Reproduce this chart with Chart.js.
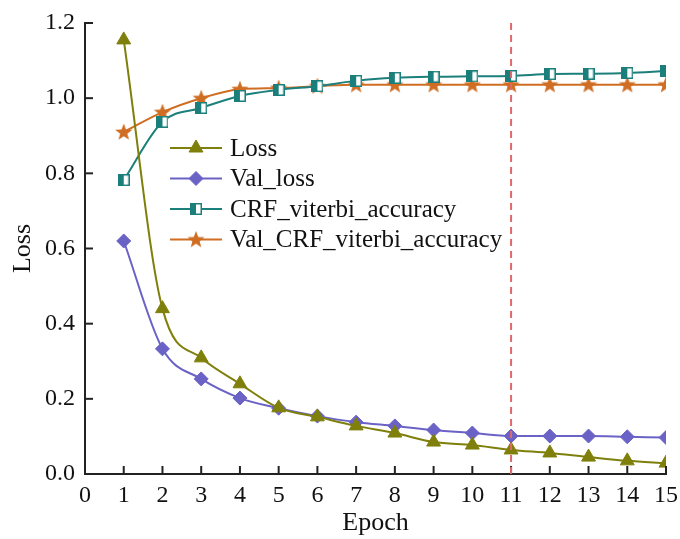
<!DOCTYPE html>
<html>
<head>
<meta charset="utf-8">
<script src="https://cdn.jsdelivr.net/npm/chart.js@4/dist/chart.umd.min.js"></script>
<style>
  html, body { margin: 0; padding: 0; background: #fff; }
  #wrap { width: 680px; height: 539px; }
</style>
</head>
<body>
<div id="wrap"><canvas id="chart" width="680" height="539"></canvas></div>
<script>
const epochs = [1, 2, 3, 4, 5, 6, 7, 8, 9, 10, 11, 12, 13, 14, 15];
const loss = [1.155, 0.44, 0.309, 0.24, 0.176, 0.152, 0.128, 0.109, 0.085, 0.077, 0.064, 0.056, 0.045, 0.035, 0.029];
const valLoss = [0.62, 0.333, 0.253, 0.202, 0.175, 0.154, 0.138, 0.128, 0.117, 0.109, 0.101, 0.101, 0.101, 0.099, 0.097];
const crfAcc = [0.782, 0.937, 0.974, 1.006, 1.022, 1.032, 1.046, 1.054, 1.057, 1.058, 1.059, 1.064, 1.065, 1.067, 1.072];
const valCrfAcc = [0.91, 0.963, 1.0, 1.024, 1.027, 1.032, 1.036, 1.036, 1.036, 1.036, 1.036, 1.036, 1.036, 1.036, 1.036];
const xTicks = [0, 1, 2, 3, 4, 5, 6, 7, 8, 9, 10, 11, 12, 13, 14, 15];
const yTicks = [0, 0.2, 0.4, 0.6, 0.8, 1.0, 1.2];
const markEpoch = 11;

const OLIVE = '#7f7f0c';
const PURPLE = '#6b62c6';
const TEAL = '#1b7f7b';
const ORANGE = '#cf6d22';
const FONT = '"Liberation Serif", "Times New Roman", serif';

function halfSquare(size, color) {
  const c = document.createElement('canvas');
  c.width = size; c.height = size;
  const g = c.getContext('2d');
  g.fillStyle = '#fff';
  g.fillRect(0, 0, size, size);
  g.fillStyle = color;
  g.fillRect(0, 0, size / 2, size);
  g.strokeStyle = color;
  g.lineWidth = 1.5;
  g.strokeRect(0.75, 0.75, size - 1.5, size - 1.5);
  return c;
}

function filledStar(size, color) {
  const c = document.createElement('canvas');
  c.width = size; c.height = size;
  const g = c.getContext('2d');
  const cx = size / 2, cy = size / 2 + 0.5, ro = size / 2, ri = ro * 0.42;
  g.beginPath();
  for (let i = 0; i < 10; i++) {
    const r = i % 2 ? ri : ro;
    const a = -Math.PI / 2 + i * Math.PI / 5;
    g.lineTo(cx + r * Math.cos(a), cy + r * Math.sin(a));
  }
  g.closePath();
  g.fillStyle = color;
  g.fill();
  return c;
}

const sqImg = halfSquare(12, TEAL);
const starImg = filledStar(18, ORANGE);

function series(label, values, color, style, radius) {
  return {
    label: label,
    data: epochs.map((e, i) => ({ x: e, y: values[i] })),
    borderColor: color,
    backgroundColor: color,
    borderWidth: 2,
    pointStyle: style,
    pointRadius: radius,
    pointBorderWidth: 1,
    cubicInterpolationMode: 'monotone',
    fill: false
  };
}

// inward tick marks, red dashed marker line and an in-plot legend
const extras = {
  id: 'extras',
  afterDraw(chart) {
    const ctx = chart.ctx;
    const xs = chart.scales.x, ys = chart.scales.y;
    const area = chart.chartArea;
    ctx.save();
    ctx.strokeStyle = '#222';
    ctx.lineWidth = 2;
    xTicks.forEach(v => {
      const px = xs.getPixelForValue(v);
      ctx.beginPath();
      ctx.moveTo(px, area.bottom);
      ctx.lineTo(px, area.bottom - 8);
      ctx.stroke();
    });
    yTicks.forEach(v => {
      const py = ys.getPixelForValue(v);
      ctx.beginPath();
      ctx.moveTo(area.left, py);
      ctx.lineTo(area.left + 8, py);
      ctx.stroke();
    });

    const mx = xs.getPixelForValue(markEpoch);
    ctx.strokeStyle = '#e06a6a';
    ctx.lineWidth = 2;
    ctx.setLineDash([7, 5]);
    ctx.beginPath();
    ctx.moveTo(mx, area.top);
    ctx.lineTo(mx, area.bottom);
    ctx.stroke();
    ctx.setLineDash([]);

    const lx0 = 170, lx1 = 222, ly = 148, gap = 30.5;
    ctx.font = '25px ' + FONT;
    ctx.textBaseline = 'middle';
    ctx.textAlign = 'left';
    chart.data.datasets.forEach((ds, i) => {
      const y = ly + i * gap;
      ctx.strokeStyle = ds.borderColor;
      ctx.fillStyle = ds.backgroundColor;
      ctx.lineWidth = 2;
      ctx.beginPath();
      ctx.moveTo(lx0, y);
      ctx.lineTo(lx1, y);
      ctx.stroke();
      ctx.lineWidth = 1;
      Chart.helpers.drawPoint(ctx, {
        pointStyle: ds.pointStyle,
        radius: ds.pointRadius,
        borderWidth: 1
      }, (lx0 + lx1) / 2, y);
      ctx.fillStyle = '#111';
      ctx.fillText(ds.label, 230, y + 1);
    });
    ctx.restore();
  }
};

new Chart(document.getElementById('chart').getContext('2d'), {
  type: 'line',
  data: {
    datasets: [
      series('Loss', loss, OLIVE, 'triangle', 8),
      series('Val_loss', valLoss, PURPLE, 'rectRot', 7),
      series('CRF_viterbi_accuracy', crfAcc, TEAL, sqImg, 6),
      series('Val_CRF_viterbi_accuracy', valCrfAcc, ORANGE, starImg, 9)
    ]
  },
  options: {
    responsive: false,
    animation: false,
    layout: { padding: { top: 23, right: 14, left: 0, bottom: 0 } },
    plugins: { legend: { display: false }, tooltip: { enabled: false } },
    scales: {
      x: {
        type: 'linear',
        min: 0,
        max: 15,
        afterFit(s) { s.height = 65; },
        afterBuildTicks(s) { s.ticks = xTicks.map(v => ({ value: v })); },
        grid: { display: false },
        border: { display: true, color: '#222', width: 2 },
        ticks: { color: '#111', font: { family: FONT, size: 24 }, padding: -1, maxRotation: 0, autoSkip: false },
        title: { display: true, text: 'Epoch', color: '#111', font: { family: FONT, size: 26 }, padding: { top: -6, bottom: 0 } }
      },
      y: {
        min: 0,
        max: 1.2,
        afterFit(s) { s.width = 85; },
        afterBuildTicks(s) { s.ticks = yTicks.map(v => ({ value: v })); },
        grid: { display: false },
        border: { display: true, color: '#222', width: 2 },
        ticks: { color: '#111', font: { family: FONT, size: 24 }, padding: 2, callback: v => v.toFixed(1) },
        title: { display: true, text: 'Loss', color: '#111', font: { family: FONT, size: 26 }, padding: { top: 8, bottom: 0 } }
      }
    }
  },
  plugins: [extras]
});
</script>
</body>
</html>
